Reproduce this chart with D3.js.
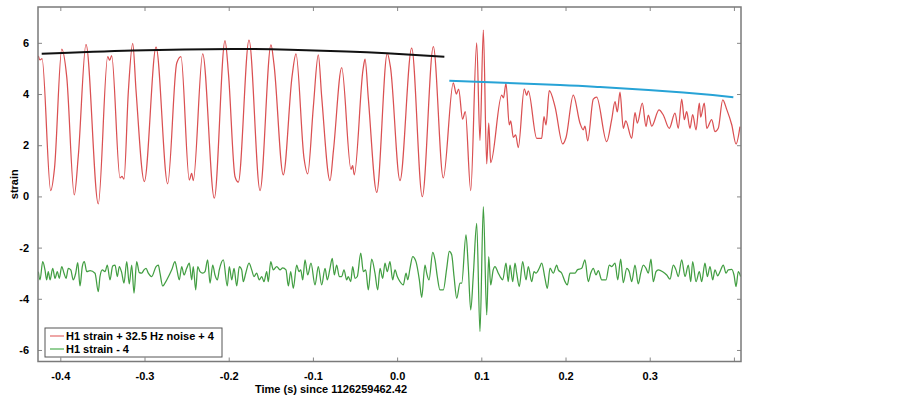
<!DOCTYPE html>
<html lang="en">
<head>
    <meta charset="UTF-8">
    <title>H1 strain</title>
    <script src="https://d3js.org/d3.v7.min.js"></script>
    <style>
        body { margin: 0; background: #fff; }
        text { font-family: "Liberation Sans", Arial, sans-serif; font-weight: bold; }
    </style>
</head>
<body>
    <svg id="chart"></svg>

    <script>
        // [time (s), strain], main turning points
        const redStrain = [
            [-0.4261,5.49],[-0.4241,5.33],[-0.4217,5.38],[-0.4114,0.23],[-0.4069,1.1],[-0.3983,5.75],[-0.3924,4.68],[-0.3834,0.06],
            [-0.3786,1.6],[-0.3695,5.94],[-0.3549,-0.29],[-0.3437,5.46],[-0.3413,5.32],[-0.3390,5.5],[-0.3291,0.72],[-0.3267,0.78],
            [-0.3244,0.68],[-0.3192,4.1],[-0.3140,5.98],[-0.3101,4.15],[-0.3002,0.58],[-0.2863,5.83],[-0.2725,0.49],[-0.2618,5.2],
            [-0.2567,5.46],[-0.2468,0.64],[-0.2440,0.9],[-0.2421,0.62],[-0.2309,5.57],[-0.2171,-0.07],[-0.2044,6.09],[-0.2002,4.75],
            [-0.1925,0.77],[-0.1886,0.56],[-0.1759,6.11],[-0.1628,0.23],[-0.1498,5.92],[-0.1462,5.15],[-0.1352,0.84],[-0.1248,4.68],
            [-0.1201,5.57],[-0.1106,1.5],[-0.1062,0.88],[-0.0995,3.5],[-0.0936,5.53],[-0.0896,3.9],[-0.0797,0.62],[-0.0756,1.8],
            [-0.0658,5.03],[-0.0548,1.06],[-0.0528,1.2],[-0.0509,0.84],[-0.0405,4.95],[-0.0381,5.36],[-0.0342,3.83],[-0.0242,0.16],
            [-0.0117,5.59],[-0.0079,5.05],[0.0034,0.62],[0.0173,5.79],[0.0299,-0.01],[0.0430,5.85],[0.0548,0.72],[0.0667,4.44],
            [0.0703,4.0],[0.0731,4.19],[0.0777,3.02],[0.0810,3.31],[0.0874,0.23],[0.0945,6.0],[0.0984,2.18],[0.1024,6.5],
            [0.1064,1.27],[0.1088,2.86],[0.1111,1.32],[0.1242,3.96],[0.1263,3.85],[0.1293,4.42],[0.1332,2.79],[0.1349,2.95],
            [0.1380,2.31],[0.1408,2.4],[0.1439,1.91],[0.1510,4.2],[0.1539,3.95],[0.1558,4.12],[0.1658,2.27],[0.1717,2.27],
            [0.1744,3.12],[0.1768,2.79],[0.1807,4.13],[0.1875,3.51],[0.1967,2.05],[0.2006,2.3],[0.2092,3.96],[0.2172,2.86],
            [0.2211,2.6],[0.2231,2.75],[0.2263,2.17],[0.2330,3.8],[0.2370,3.88],[0.2489,2.14],[0.2548,3.0],[0.2588,3.7],
            [0.2615,3.3],[0.2647,4.07],[0.2686,2.66],[0.2715,2.95],[0.2786,2.27],[0.2825,3.27],[0.2853,2.86],[0.2912,3.64],
            [0.2956,2.73],[0.2983,3.18],[0.3024,2.75],[0.3110,3.38],[0.3161,3.18],[0.3232,2.66],[0.3300,3.25],[0.3339,2.66],
            [0.3380,3.8],[0.3411,3.0],[0.3439,3.31],[0.3478,2.66],[0.3510,3.2],[0.3550,2.6],[0.3589,3.64],[0.3605,3.1],
            [0.3648,3.64],[0.3677,2.66],[0.3736,3.0],[0.3775,2.53],[0.3814,2.66],[0.3867,3.77],[0.3914,3.4],[0.3974,2.8],
            [0.4025,2.05],[0.4072,2.73]
        ];

        const greenStrain = [
            [-0.4261,-2.94],[-0.4241,-3.26],[-0.4209,-2.55],[-0.4182,-2.87],[-0.4162,-3.26],[-0.4143,-2.94],[-0.4122,-3.26],[-0.4090,-2.81],
            [-0.4063,-3.20],[-0.4036,-2.94],[-0.4012,-3.20],[-0.3983,-2.74],[-0.3956,-3.00],[-0.3932,-3.20],[-0.3905,-2.81],[-0.3876,-2.87],
            [-0.3846,-3.26],[-0.3817,-3.00],[-0.3793,-2.59],[-0.3766,-3.50],[-0.3739,-2.74],[-0.3715,-2.55],[-0.3686,-2.94],[-0.3647,-2.90],
            [-0.3588,-3.00],[-0.3549,-3.72],[-0.3529,-3.13],[-0.3501,-2.87],[-0.3469,-2.94],[-0.3442,-2.68],[-0.3410,-3.26],[-0.3378,-2.72],
            [-0.3350,-2.68],[-0.3323,-3.13],[-0.3299,-2.74],[-0.3271,-2.98],[-0.3244,-3.39],[-0.3211,-2.55],[-0.3181,-3.42],[-0.3152,-2.68],
            [-0.3125,-3.78],[-0.3093,-2.55],[-0.3062,-2.98],[-0.3033,-3.00],[-0.3006,-2.87],[-0.2982,-2.81],[-0.2955,-3.00],[-0.2915,-3.13],
            [-0.2863,-2.74],[-0.2836,-2.68],[-0.2816,-3.00],[-0.2784,-3.50],[-0.2757,-3.39],[-0.2706,-3.07],[-0.2677,-2.87],[-0.2638,-2.55],
            [-0.2618,-2.81],[-0.2587,-3.26],[-0.2558,-2.74],[-0.2531,-3.07],[-0.2499,-2.81],[-0.2468,-2.61],[-0.2440,-3.26],[-0.2421,-2.74],
            [-0.2392,-3.65],[-0.2368,-2.74],[-0.2341,-2.94],[-0.2309,-3.00],[-0.2282,-2.94],[-0.2250,-2.48],[-0.2222,-3.39],[-0.2190,-2.68],
            [-0.2163,-3.07],[-0.2135,-3.26],[-0.2112,-2.87],[-0.2064,-2.48],[-0.2017,-3.50],[-0.1993,-2.74],[-0.1964,-3.26],[-0.1937,-2.81],
            [-0.1905,-3.50],[-0.1874,-2.74],[-0.1846,-2.87],[-0.1827,-3.33],[-0.1798,-3.00],[-0.1759,-2.61],[-0.1727,-2.87],[-0.1700,-3.13],
            [-0.1668,-3.00],[-0.1637,-3.26],[-0.1608,-3.13],[-0.1581,-3.33],[-0.1549,-2.94],[-0.1530,-3.33],[-0.1501,-2.55],[-0.1470,-2.87],
            [-0.1430,-2.74],[-0.1391,-2.87],[-0.1359,-2.79],[-0.1320,-2.87],[-0.1292,-3.50],[-0.1264,-2.94],[-0.1233,-3.59],[-0.1193,-2.68],
            [-0.1165,-2.94],[-0.1145,-2.87],[-0.1121,-3.26],[-0.1094,-2.48],[-0.1062,-3.07],[-0.1023,-2.61],[-0.0975,-3.46],[-0.0936,-2.74],
            [-0.0896,-3.46],[-0.0856,-2.81],[-0.0829,-3.26],[-0.0797,-2.81],[-0.0770,-2.42],[-0.0746,-3.07],[-0.0718,-2.68],[-0.0687,-3.13],
            [-0.0658,-3.13],[-0.0631,-2.87],[-0.0599,-3.26],[-0.0580,-3.13],[-0.0551,-3.33],[-0.0528,-2.74],[-0.0500,-3.20],[-0.0473,-3.13],
            [-0.0432,-2.22],[-0.0401,-2.94],[-0.0373,-2.87],[-0.0342,-3.65],[-0.0302,-2.45],[-0.0263,-3.00],[-0.0231,-3.65],[-0.0203,-2.81],
            [-0.0171,-3.20],[-0.0144,-2.61],[-0.0117,-2.94],[-0.0085,-2.55],[-0.0053,-3.26],[-0.0025,-2.87],[0.0002,-3.13],[0.0034,-3.33],
            [0.0073,-3.46],[0.0106,-3.00],[0.0126,-3.26],[0.0153,-2.81],[0.0185,-2.35],[0.0224,-2.55],[0.0264,-3.26],[0.0292,-3.94],
            [0.0331,-2.68],[0.0351,-3.00],[0.0379,-3.26],[0.0423,-2.19],[0.0450,-2.48],[0.0477,-3.13],[0.0509,-3.65],[0.0549,-3.65],
            [0.0589,-2.81],[0.0620,-2.15],[0.0648,-2.28],[0.0676,-3.13],[0.0708,-3.98],[0.0747,-3.39],[0.0767,-3.39],[0.0818,-1.50],
            [0.0845,-2.74],[0.0874,-4.43],[0.0905,-3.07],[0.0945,-1.05],[0.0984,-5.28],[0.1024,-0.40],[0.1064,-4.63],[0.1088,-2.35],
            [0.1111,-3.46],[0.1141,-2.87],[0.1162,-2.74],[0.1202,-3.00],[0.1222,-3.13],[0.1254,-3.26],[0.1293,-2.61],[0.1320,-3.33],
            [0.1341,-2.68],[0.1373,-3.33],[0.1400,-2.61],[0.1420,-3.00],[0.1451,-3.52],[0.1491,-2.55],[0.1531,-3.26],[0.1558,-2.74],
            [0.1598,-3.33],[0.1626,-2.94],[0.1649,-3.00],[0.1689,-2.80],[0.1717,-2.61],[0.1756,-3.20],[0.1784,-3.59],[0.1816,-2.80],
            [0.1855,-3.00],[0.1895,-2.68],[0.1914,-2.87],[0.1955,-3.00],[0.1994,-3.33],[0.2021,-3.46],[0.2053,-3.00],[0.2113,-3.00],
            [0.2140,-2.87],[0.2192,-2.81],[0.2231,-2.48],[0.2270,-3.33],[0.2299,-3.00],[0.2330,-2.81],[0.2362,-3.07],[0.2389,-2.90],
            [0.2430,-3.26],[0.2481,-3.26],[0.2520,-2.68],[0.2548,-2.74],[0.2588,-2.61],[0.2620,-3.26],[0.2655,-2.45],[0.2686,-3.37],
            [0.2727,-2.81],[0.2757,-2.94],[0.2786,-3.33],[0.2825,-2.68],[0.2864,-3.42],[0.2893,-3.00],[0.2924,-2.68],[0.2956,-2.81],
            [0.2983,-3.00],[0.3015,-2.45],[0.3042,-3.33],[0.3075,-2.94],[0.3102,-2.87],[0.3154,-2.94],[0.3202,-3.07],[0.3241,-3.23],
            [0.3280,-2.68],[0.3312,-2.87],[0.3339,-3.13],[0.3380,-2.48],[0.3419,-3.13],[0.3458,-2.68],[0.3487,-3.33],[0.3510,-2.55],
            [0.3550,-3.33],[0.3589,-2.94],[0.3617,-3.33],[0.3656,-2.61],[0.3684,-3.13],[0.3716,-2.74],[0.3748,-3.26],[0.3775,-2.87],
            [0.3807,-3.10],[0.3835,-2.94],[0.3874,-2.68],[0.3906,-3.00],[0.3933,-2.87],[0.3974,-2.85],[0.4001,-3.07],[0.4025,-3.52],
            [0.4052,-2.94],[0.4080,-3.13]
        ];

        // envelope fits
        const blackFit = [[-0.4221,5.57],[-0.3137,5.70],[-0.1949,5.76],[-0.1272,5.73],[-0.0599,5.66],[-0.0124,5.59],[0.0561,5.46]];
        const blueFit = [[0.062,4.52],[0.1935,4.35],[0.241,4.27],[0.34,4.06],[0.3993,3.87]];

        const xTicks = [-0.4, -0.3, -0.2, -0.1, 0.0, 0.1, 0.2, 0.3, 0.4];
        const yTicks = [-6, -4, -2, 0, 2, 4, 6];
        const legendLabels = ["H1 strain + 32.5 Hz noise + 4", "H1 strain - 4"];

        const width = 903, height = 398;
        const plot = {left: 38, right: 741, top: 7, bottom: 361.5};

        const svg = d3.select("#chart")
                      .attr("width", width)
                      .attr("height", height);

        const x = d3.scaleLinear().domain([-0.4265, 0.4084]).range([plot.left, plot.right]);
        const y = d3.scaleLinear().domain([-6.45, 7.4]).range([plot.bottom, plot.top]);

        svg.append("clipPath").attr("id", "clip")
           .append("rect")
           .attr("x", plot.left).attr("y", plot.top)
           .attr("width", plot.right - plot.left).attr("height", plot.bottom - plot.top);

        const line = d3.line()
                       .x(d => x(d[0]))
                       .y(d => y(d[1]))
                       .curve(d3.curveMonotoneX);

        const g = svg.append("g").attr("clip-path", "url(#clip)");

        g.append("path").datum(greenStrain)
         .attr("fill", "none").attr("stroke", "#429e42").attr("stroke-width", 1.25)
         .attr("d", line);

        g.append("path").datum(redStrain)
         .attr("fill", "none").attr("stroke", "#da5052").attr("stroke-width", 1.25)
         .attr("d", line);

        const fitLine = d3.line().x(d => x(d[0])).y(d => y(d[1])).curve(d3.curveNatural);

        g.append("path").datum(blackFit)
         .attr("fill", "none").attr("stroke", "#111").attr("stroke-width", 2)
         .attr("d", fitLine);

        g.append("path").datum(blueFit)
         .attr("fill", "none").attr("stroke", "#27a3d6").attr("stroke-width", 2)
         .attr("d", fitLine);

        // axes, ticks pointing inward on all four sides
        const fmtX = d => Math.abs(d - 0.4) < 1e-9 ? "" : d.toFixed(1);
        const fmtY = d => String(d);

        const styleAxis = sel => {
            sel.select(".domain").remove();
            sel.selectAll(".tick line").attr("stroke", "#888");
            sel.selectAll(".tick text").attr("fill", "#000").style("font-size", "11px");
        };

        svg.append("g")
           .attr("transform", `translate(0,${plot.bottom})`)
           .call(d3.axisBottom(x).tickValues(xTicks).tickFormat(fmtX).tickSizeInner(-4).tickSizeOuter(0).tickPadding(11))
           .call(styleAxis);

        svg.append("g")
           .attr("transform", `translate(0,${plot.top})`)
           .call(d3.axisTop(x).tickValues(xTicks).tickFormat("").tickSizeInner(-4).tickSizeOuter(0))
           .call(styleAxis);

        svg.append("g")
           .attr("transform", `translate(${plot.left},0)`)
           .call(d3.axisLeft(y).tickValues(yTicks).tickFormat(fmtY).tickSizeInner(-4).tickSizeOuter(0).tickPadding(9))
           .call(styleAxis);

        svg.append("g")
           .attr("transform", `translate(${plot.right},0)`)
           .call(d3.axisRight(y).tickValues(yTicks).tickFormat("").tickSizeInner(-4).tickSizeOuter(0))
           .call(styleAxis);

        svg.append("rect")
           .attr("x", plot.left).attr("y", plot.top)
           .attr("width", plot.right - plot.left).attr("height", plot.bottom - plot.top)
           .attr("fill", "none").attr("stroke", "#7a7a7a").attr("stroke-width", 1.5);

        svg.append("text")
           .attr("x", 331).attr("y", 393)
           .attr("text-anchor", "middle")
           .style("font-size", "11px")
           .text("Time (s) since 1126259462.42");

        svg.append("text")
           .attr("transform", `translate(18,${(plot.top + plot.bottom) / 2}) rotate(-90)`)
           .attr("text-anchor", "middle")
           .style("font-size", "11px")
           .text("strain");

        // legend
        const legendColors = ["#e36b6b", "#4caf50"];
        const legend = svg.append("g").attr("transform", "translate(45,328)");
        legend.append("rect")
              .attr("width", 177).attr("height", 29)
              .attr("fill", "#fff").attr("stroke", "#555").attr("stroke-width", 1);

        legendLabels.forEach((label, i) => {
            const ly = 8 + i * 13;
            legend.append("line")
                  .attr("x1", 5).attr("x2", 19).attr("y1", ly).attr("y2", ly)
                  .attr("stroke", legendColors[i]).attr("stroke-width", 1.2);
            legend.append("text")
                  .attr("x", 21).attr("y", ly + 4)
                  .style("font-size", "11px")
                  .text(label);
        });
    </script>
</body>
</html>
